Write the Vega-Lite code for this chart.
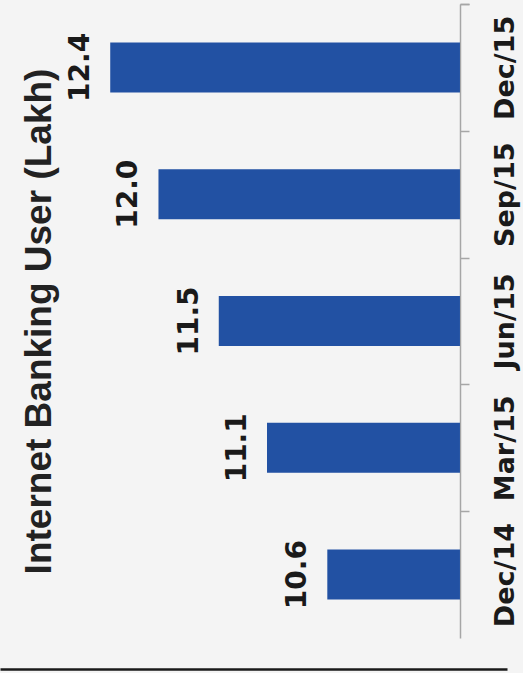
{
  "$schema": "https://vega.github.io/schema/vega-lite/v6.json",
  "width": 507,
  "height": 634,
  "autosize": "none",
  "padding": {"top": 4, "left": 0, "right": 16, "bottom": 35},
  "background": "#f4f4f4",
  "config": {"view": {"stroke": null}},
  "data": {
    "values": [
      {"period": "Dec/15", "users": 12.4},
      {"period": "Sep/15", "users": 12.0},
      {"period": "Jun/15", "users": 11.5},
      {"period": "Mar/15", "users": 11.1},
      {"period": "Dec/14", "users": 10.6}
    ]
  },
  "layer": [
    {
      "mark": {"type": "bar", "color": "#2251a3"},
      "encoding": {
        "y": {
          "field": "period",
          "type": "nominal",
          "sort": ["Dec/15", "Sep/15", "Jun/15", "Mar/15", "Dec/14"],
          "scale": {"paddingInner": 0.606, "paddingOuter": 0.303},
          "axis": {
            "orient": "right",
            "offset": -47,
            "title": null,
            "grid": false,
            "domainColor": "#a6a6a6",
            "domainWidth": 1.5,
            "tickColor": "#a6a6a6",
            "tickWidth": 1.5,
            "tickSize": 9,
            "bandPosition": 0,
            "tickOffset": -38.4,
            "tickExtra": true,
            "labelOffset": 38.4,
            "labelAngle": 270,
            "labelAlign": "center",
            "labelBaseline": "top",
            "labelPadding": 23,
            "labelFont": "DejaVu Sans",
            "labelFontWeight": "bold",
            "labelFontSize": 27,
            "labelColor": "#1a1a1a"
          }
        },
        "x": {
          "field": "users",
          "type": "quantitative",
          "scale": {"domain": [9.11, 13.314], "reverse": true, "nice": false, "zero": false},
          "axis": {
            "orient": "bottom",
            "offset": 31,
            "title": null,
            "grid": false,
            "ticks": false,
            "labels": false,
            "domainColor": "#1a1a1a",
            "domainWidth": 2.5
          }
        },
        "x2": {"datum": 9.5}
      }
    },
    {
      "mark": {
        "type": "text",
        "angle": 270,
        "align": "center",
        "baseline": "alphabetic",
        "dy": -21,
        "font": "DejaVu Sans",
        "fontWeight": "bold",
        "fontSize": 28,
        "color": "#1a1a1a"
      },
      "encoding": {
        "y": {
          "field": "period",
          "type": "nominal",
          "sort": ["Dec/15", "Sep/15", "Jun/15", "Mar/15", "Dec/14"],
          "scale": {"paddingInner": 0.606, "paddingOuter": 0.303},
          "axis": {
            "orient": "left",
            "offset": -58,
            "title": "Internet Banking User (Lakh)",
            "titleFont": "Liberation Sans",
            "titleFontWeight": "bold",
            "titleFontSize": 37,
            "titleColor": "#222222",
            "titlePadding": 0,
            "labels": false,
            "ticks": false,
            "domain": false,
            "grid": false
          }
        },
        "x": {"field": "users", "type": "quantitative"},
        "text": {"field": "users", "type": "quantitative", "format": ".1f"}
      }
    }
  ],
  "resolve": {"scale": {"y": "independent"}, "axis": {"y": "independent"}}
}
